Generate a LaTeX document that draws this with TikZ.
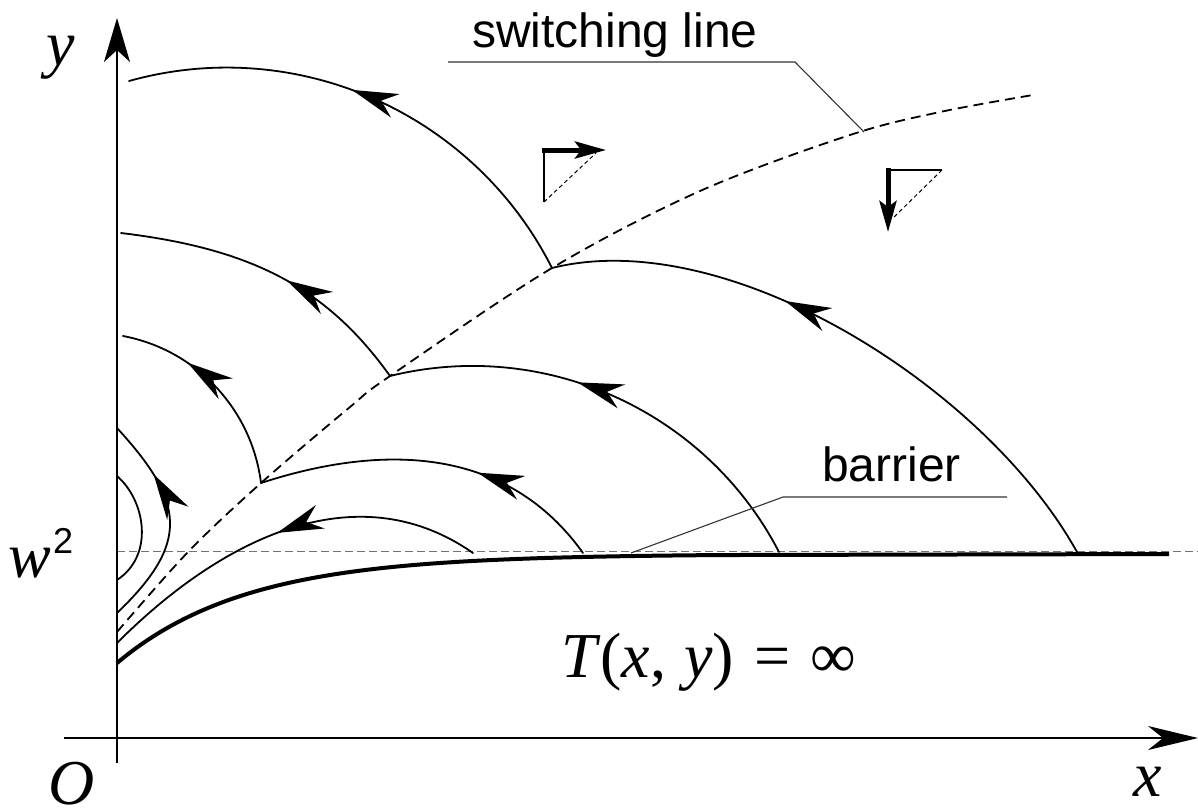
\documentclass[tikz,border=0pt]{standalone}
\usepackage{fontspec}
\setmainfont{Liberation Serif}
\newfontfamily\sansf{Liberation Sans}
\usetikzlibrary{arrows.meta,decorations.markings}
\begin{document}
\begin{tikzpicture}[x=1pt,y=-1pt,
  traj/.style={line width=1.8pt, line cap=round, line join=round},
  trajarrow/.style={postaction={decorate}, decoration={markings,
      mark=at position #1 with {\arrow{Stealth[length=46pt,width=25pt,inset=15pt]}}}},
  axis/.style={line width=2pt},
  switchln/.style={line width=1.8pt, dash pattern=on 10pt off 6pt},
  barrierln/.style={line width=1.2pt, black!55, dash pattern=on 8pt off 4pt},
  leader/.style={line width=1.1pt, black!80},
  icondash/.style={line width=1pt, dash pattern=on 4pt off 3pt},
  iconthin/.style={line width=1.2pt},
  iconarrow/.style={line width=5pt, -{Stealth[length=31pt,width=17pt,inset=6pt]}},
  sanslbl/.style={inner sep=0pt, anchor=base west, font=\sansf\fontsize{48}{56}\selectfont},
  mathlbl/.style={inner sep=0pt, anchor=base west, font=\fontsize{64}{72}\selectfont}
]
\useasboundingbox (0,0) rectangle (1198,807);

% barrier (dashed gray)
\draw[barrierln] (117,551.5) -- (1198,551.5);

% thick limit curve
\draw[line width=4pt] plot[domain=117:720, samples=120, variable=\t]
  (\t, {554+109*exp(-(\t-117)/129.4)}) -- (1169,554);

% switching line
\draw[switchln] plot[smooth, tension=0.55] coordinates
  {(117,632) (188,552) (261,483) (350,407) (390,376) (552,268) (700,191) (850,135) (940,112) (1033,95)};

% trajectories (drawn in the direction of motion)
\draw[traj, trajarrow=0.547] (552,268) .. controls (473.6,112.8) and (296.5,34.2) .. (129,81);
\draw[traj, trajarrow=0.62] (1077,552) .. controls (984.7,385.9) and (726.6,224.3) .. (552,268);
\draw[traj, trajarrow=0.587] (779,552) .. controls (705.9,410.8) and (544.4,337.8) .. (390,376);
\draw[traj, trajarrow=0.45] (390,376) .. controls (326.1,286.5) and (250.1,248.5) .. (121,233);
\draw[traj, trajarrow=0.673] (261,483) .. controls (251.8,409.2) and (196.1,349.8) .. (123,336);
\draw[traj, trajarrow=0.379] (583,553) .. controls (507.6,447.2) and (384.5,442.7) .. (261,483);
\draw[traj, trajarrow=0.512] (473,553) .. controls (362.4,475.6) and (230.1,529.9) .. (117,643);
\draw[traj, trajarrow=0.73] (117,613) .. controls (189.7,543.3) and (185.7,502.7) .. (117,428);
\draw[traj] (117,476) .. controls (145,500) and (155,555) .. (117,580);

% axes
\draw[axis, -{Stealth[length=44pt,width=26pt,inset=12pt]}] (117,763) -- (117,18);
\draw[axis, -{Stealth[length=50pt,width=24pt,inset=15pt]}] (64,738) -- (1198,738);

% icons
\draw[iconthin] (544,150) -- (544,202);
\draw[icondash] (544,202) -- (596,153);
\draw[iconarrow] (542,150) -- (606,150);
\draw[iconthin] (888,170) -- (942,170);
\draw[icondash] (942,170) -- (893,218);
\draw[iconarrow] (888,167.5) -- (888,232);

% labels and leaders
\node[sanslbl] (lblSwitch) at (472,47) {switching line};
\node[sanslbl] (lblBarrier) at (822,481) {barrier};
\coordinate (swA) at (448,62);
\coordinate (swB) at (795,62);
\coordinate (swC) at (864,132);
\draw[leader] (swA) -- (swB) -- (swC);
\coordinate (brA) at (1007,497);
\coordinate (brB) at (783,497);
\coordinate (brC) at (631,553);
\draw[leader] (brA) -- (brB) -- (brC);

\node[mathlbl] (lblY) at (46,65) {\itshape y};
\node[mathlbl] (lblW) at (8,577) {\itshape w};
\node[inner sep=0pt, anchor=base west, font=\sansf\fontsize{36}{40}\selectfont] (lblW2) at (53,553) {2};
\node[mathlbl] (lblO) at (48,804) {\itshape O};
\node[mathlbl] (lblX) at (1133,796) {\itshape x};
\node[mathlbl] (lblT) at (561,677) {\itshape T\/\upshape(\itshape x\upshape,\hspace{18pt}\itshape y\/\upshape)\hspace{20pt}=\hspace{20pt}∞};
\end{tikzpicture}
\end{document}
